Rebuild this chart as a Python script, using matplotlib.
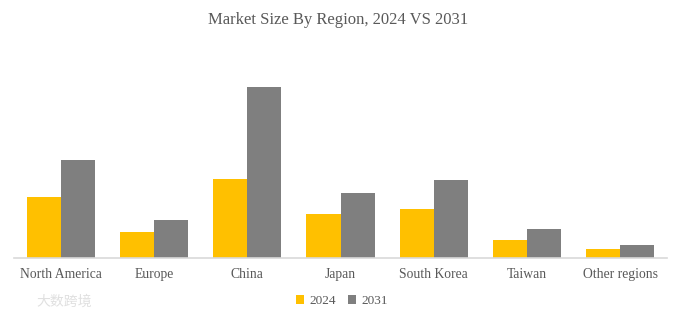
import matplotlib
matplotlib.use("Agg")
import matplotlib.pyplot as plt
import numpy as np

regions = ["North America", "Europe", "China", "Japan", "South Korea", "Taiwan", "Other regions"]
series_names = ["2024", "2031"]
values_2024 = [61, 26.5, 79.5, 44, 49, 18, 9]
values_2031 = [98, 38, 171.5, 65, 78, 29, 13.3]
title = "Market Size By Region, 2024 VS 2031"

plt.rcParams['font.family'] = ['Liberation Serif', 'DejaVu Serif']

fig = plt.figure(figsize=(6.81, 3.22), dpi=100)
ax = fig.add_axes([14/681, (322-258)/322, 653/681, 200/322])

x = np.arange(len(regions))
w = 0.365
ax.bar(x - w/2, values_2024, width=w, color="#FFC000", label=series_names[0])
ax.bar(x + w/2, values_2031, width=w, color="#7F7F7F", label=series_names[1])

ax.set_xlim(-0.5, len(regions) - 0.5)
ax.set_ylim(0, 200)
ax.set_yticks([])
for s in ["top", "right", "left"]:
    ax.spines[s].set_visible(False)
ax.spines["bottom"].set_color("#D9D9D9")
ax.spines["bottom"].set_linewidth(1.2)
ax.set_xticks(x)
ax.set_xticklabels(regions, fontsize=9.8, color="#595959")
ax.tick_params(axis="x", length=0, pad=7)

fig.text(338/681, 1 - 20/322, title, ha="center", va="center", fontsize=12, color="#595959")

leg = fig.legend(loc="center", bbox_to_anchor=(342/681, 1 - 301/322), ncol=2, frameon=False,
                 fontsize=9.5, handlelength=0.6, handleheight=0.6, handletextpad=0.4,
                 columnspacing=0.9, labelcolor="#595959")

fig.text(36/681, 1 - 302/322, "大数跨境", ha="left", va="center", fontsize=10,
         color="#E0E0E0", family=["Noto Sans CJK SC", "DejaVu Sans"])

fig.savefig("out.png", dpi=100, facecolor="white")
